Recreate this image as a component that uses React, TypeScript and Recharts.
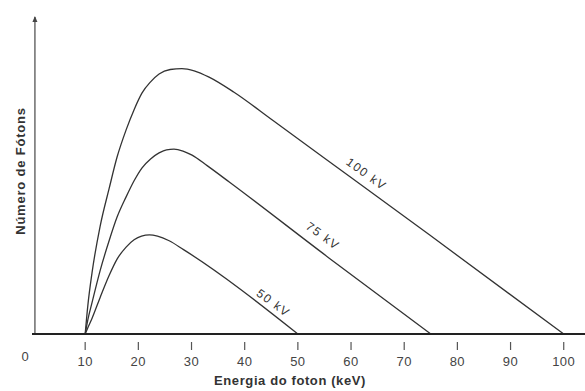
import { LineChart, Line, XAxis, YAxis, ReferenceLine, ReferenceDot } from "recharts";

// photon energy (keV) and relative photon count
const energy100 = [10, 10.5, 11.3, 12.8, 14.5, 16, 17.7, 19.2, 20.7, 22.3, 23.9, 26, 28.2, 30.5, 33.3, 38, 45.2, 60, 74.8, 100];
const photons100 = [0, 9, 19.5, 34, 46, 56, 64.6, 71, 76.3, 79.8, 82.3, 83.7, 84, 83.3, 81.3, 76.5, 67.7, 49.5, 31.3, 0];

const energy75 = [10, 10.5, 11.3, 12.8, 14.5, 16, 17.7, 19.2, 20.7, 22.3, 23.9, 25.3, 26.7, 28.4, 30.1, 33, 37.1, 55.9, 75];
const photons75 = [0, 4.5, 10, 20, 29.5, 37, 43.4, 48.5, 52.6, 55.4, 57.3, 58.3, 58.5, 57.9, 56.6, 53.2, 48.1, 24, 0];

const energy50 = [10, 10.5, 11.3, 12.8, 14.5, 16, 17.7, 19.2, 20.6, 22.1, 23.6, 25.8, 28.5, 50];
const photons50 = [0, 2, 5, 11.5, 18.5, 23.7, 27.5, 29.8, 31, 31.4, 31, 29.5, 26.7, 0];

const xTicks = [0, 10, 20, 30, 40, 50, 60, 70, 80, 90, 100];

// label anchors in data units: [energy, photons, text]
const curveLabels: [number, number, string][] = [
  [62.9, 50.6, "100 kV"],
  [54.7, 31.0, "75 kV"],
  [45.4, 9.8, "50 kV"],
];

const toRows = (xs: number[], ys: number[]) => xs.map((e, i) => ({ e, n: ys[i] }));

const series = [
  { key: "100", rows: toRows(energy100, photons100) },
  { key: "75", rows: toRows(energy75, photons75) },
  { key: "50", rows: toRows(energy50, photons50) },
];

const font = "'Liberation Sans', Arial, sans-serif";

function EnergyTick(props: any) {
  const { x, y, payload } = props;
  if (payload.value === 0) {
    return (
      <text x={x - 7} y={y + 19} textAnchor="middle" fontSize={13} fill="#444" fontFamily={font}>
        0
      </text>
    );
  }
  return (
    <g>
      <line x1={x} y1={y} x2={x} y2={y + 8} stroke="#555" strokeWidth={1.2} />
      <text x={x} y={y + 24} textAnchor="middle" fontSize={13} letterSpacing={0.5} fill="#444" fontFamily={font}>
        {payload.value}
      </text>
    </g>
  );
}

function XTitle(props: any) {
  const vb = props.viewBox;
  return (
    <text x={290} y={vb.y + vb.height - 6} textAnchor="middle" fontSize={13} fontWeight="bold" letterSpacing={0.6} fill="#333" fontFamily={font}>
      Energia do foton  (keV)
    </text>
  );
}

function YTitle(props: any) {
  const vb = props.viewBox;
  const cy = vb.y + vb.height / 2 - 5;
  return (
    <text
      x={20}
      y={cy}
      textAnchor="middle"
      dominantBaseline="central"
      fontSize={13}
      fontWeight="bold"
      letterSpacing={0.8}
      fill="#333"
      fontFamily={font}
      transform={`rotate(-90, 20, ${cy})`}
    >
      Número de Fótons
    </text>
  );
}

function YAxisArrow(p: any) {
  const x = p.x1;
  const top = Math.min(p.y1, p.y2) - 1;
  const bottom = Math.max(p.y1, p.y2);
  return (
    <g>
      <line x1={x} y1={top} x2={x} y2={bottom} stroke="#555" strokeWidth={1.3} />
      <polygon points={`${x - 2.5},${top + 5} ${x + 2.5},${top + 5} ${x},${top - 1}`} fill="#444" />
    </g>
  );
}

export default function App() {
  return (
    <div style={{ position: "absolute", left: 0, top: 0, background: "#fff" }}>
      <LineChart width={585} height={391} margin={{ top: 18, right: 0, bottom: 0, left: 0 }}>
        <XAxis
          type="number"
          dataKey="e"
          domain={[0, 104]}
          ticks={xTicks}
          interval={0}
          height={57}
          tick={<EnergyTick />}
          tickLine={false}
          axisLine={{ stroke: "#222", strokeWidth: 2 }}
          label={<XTitle />}
        />
        <YAxis
          type="number"
          domain={[0, 100]}
          width={32}
          tick={false}
          tickLine={false}
          axisLine={false}
          label={<YTitle />}
        />
        <ReferenceLine
          x={0.55}
          segment={[{ x: 0.55, y: 100 }, { x: 0.55, y: 0 }]}
          shape={YAxisArrow}
          ifOverflow="visible"
        />
        {series.map((s) => (
          <Line
            key={s.key}
            data={s.rows}
            dataKey="n"
            type="monotone"
            stroke="#333"
            strokeWidth={1.3}
            dot={false}
            isAnimationActive={false}
          />
        ))}
        {curveLabels.map(([e, n, text]) => (
          <ReferenceDot
            key={text}
            x={e}
            y={n}
            r={0}
            ifOverflow="visible"
            shape={(p: any) => (
              <text
                x={p.cx}
                y={p.cy}
                textAnchor="middle"
                dominantBaseline="central"
                fontSize={12}
                letterSpacing={1.5}
                fill="#333"
                fontFamily={font}
                transform={`rotate(36, ${p.cx}, ${p.cy})`}
              >
                {text}
              </text>
            )}
          />
        ))}
      </LineChart>
    </div>
  );
}
